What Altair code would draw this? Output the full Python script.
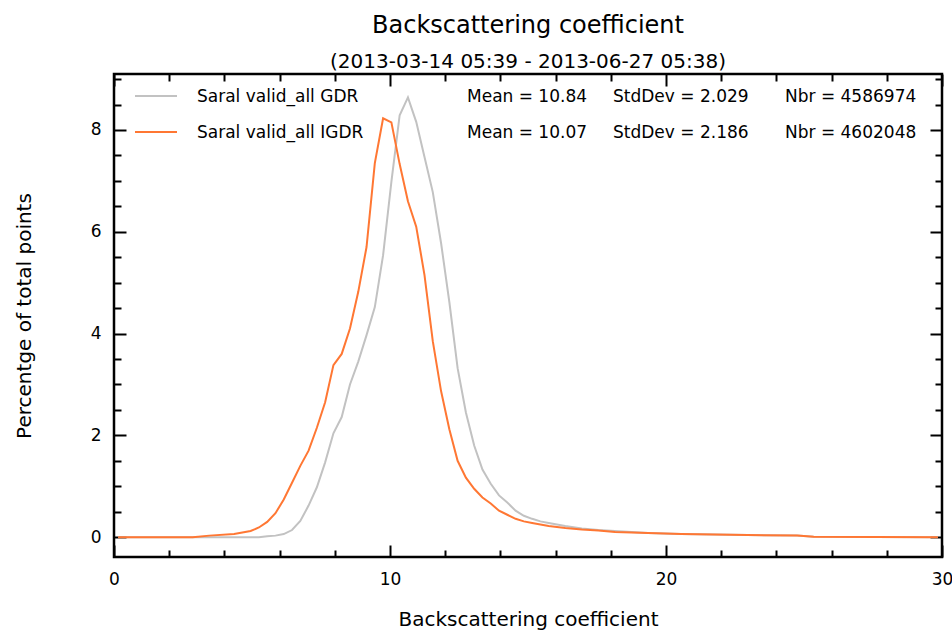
import altair as alt
import pandas as pd

# ---- histogram values (percentage of points per backscatter bin) ----
gdr_x = [0.15, 5.25, 5.55, 5.85, 6.15, 6.45, 6.75, 7.05, 7.35, 7.65,
         7.95, 8.25, 8.55, 8.85, 9.15, 9.45, 9.75, 10.05, 10.35, 10.65,
         10.95, 11.25, 11.55, 11.85, 12.15, 12.45, 12.75, 13.05, 13.35, 13.65,
         13.95, 14.25, 14.55, 14.85, 15.15, 15.45, 15.75, 16.35, 16.95, 17.55,
         18.15, 19.35, 20.55, 21.75, 22.95, 24.75, 25.35, 29.85]
gdr_y = [0.0, 0.0, 0.02, 0.03, 0.06, 0.14, 0.32, 0.62, 0.98, 1.47,
         2.04, 2.36, 3.00, 3.45, 3.97, 4.52, 5.54, 6.98, 8.29, 8.64,
         8.16, 7.47, 6.78, 5.78, 4.62, 3.32, 2.45, 1.80, 1.33, 1.05,
         0.82, 0.68, 0.52, 0.42, 0.36, 0.31, 0.28, 0.22, 0.17, 0.14,
         0.12, 0.08, 0.06, 0.05, 0.04, 0.03, 0.01, 0.0]

igdr_x = [0.15, 2.85, 3.45, 4.35, 4.95, 5.25, 5.55, 5.85, 6.15, 6.45,
          6.75, 7.05, 7.35, 7.65, 7.95, 8.25, 8.55, 8.85, 9.15, 9.45,
          9.75, 10.05, 10.35, 10.65, 10.95, 11.25, 11.55, 11.85, 12.15, 12.45,
          12.75, 13.05, 13.35, 13.65, 13.95, 14.25, 14.55, 14.85, 15.15, 15.45,
          15.75, 16.35, 16.95, 17.55, 18.15, 19.35, 20.55, 21.75, 22.95, 24.75,
          25.35, 29.85]
igdr_y = [0.0, 0.0, 0.03, 0.06, 0.12, 0.19, 0.30, 0.47, 0.74, 1.07,
          1.40, 1.70, 2.15, 2.65, 3.38, 3.60, 4.10, 4.82, 5.70, 7.35,
          8.23, 8.15, 7.33, 6.60, 6.10, 5.15, 3.85, 2.87, 2.12, 1.50,
          1.17, 0.95, 0.78, 0.66, 0.52, 0.44, 0.36, 0.31, 0.28, 0.25,
          0.22, 0.18, 0.15, 0.13, 0.10, 0.08, 0.06, 0.05, 0.04, 0.03,
          0.01, 0.0]

# ---- legend / statistics ----
series_names = ["Saral valid_all GDR", "Saral valid_all IGDR"]
series_colors = ["#c2c2c2", "#ff7733"]
series_means = ["10.84", "10.07"]
series_stddevs = ["2.029", "2.186"]
series_counts = ["4586974", "4602048"]

x_ticks = [0, 2, 4, 6, 8, 10, 12, 14, 16, 18, 20, 22, 24, 26, 28, 30]
y_ticks = [0, 0.5, 1, 1.5, 2, 2.5, 3, 3.5, 4, 4.5, 5, 5.5, 6, 6.5, 7, 7.5,
           8, 8.5, 9]

title_text = "Backscattering coefficient"
subtitle_text = "(2013-03-14 05:39 - 2013-06-27 05:38)"
x_title = "Backscattering coefficient"
y_title = "Percentge of total points"

FONT = "DejaVu Sans"
W, H = 828, 483

x_scale = alt.Scale(domain=[0, 30], nice=False, zero=False)
y_scale = alt.Scale(domain=[-0.39, 9.1], nice=False, zero=False)

common = dict(domain=False, grid=False, tickColor="black", tickWidth=2,
              labelFont=FONT, labelFontSize=17, labelColor="black",
              titleFont=FONT, titleFontSize=20, titleFontWeight="normal",
              titleColor="black", labelOverlap=False)

x_major = "datum.value % 10 === 0"
y_major = "datum.value % 2 === 0"

ax_bottom = alt.Axis(orient="bottom", values=x_ticks,
                     tickSize={"expr": f"{x_major} ? -12 : -7"},
                     labelExpr=f"{x_major} ? format(datum.value, 'd') : ''",
                     labelPadding=26, labelFlush=False, labelBaseline="top",
                     title=x_title, titleX=W / 2, titleY=62,
                     titleAlign="center", titleBaseline="middle", **common)
ax_top = alt.Axis(orient="top", values=x_ticks,
                  tickSize={"expr": f"{x_major} ? -12 : -7"},
                  labels=False, title=None, **common)
ax_left = alt.Axis(orient="left", values=y_ticks,
                   tickSize={"expr": f"{y_major} ? -12 : -7"},
                   labelExpr=f"{y_major} ? format(datum.value, 'd') : ''",
                   labelPadding=25, title=y_title, titleX=-90, titleY=H / 2,
                   titleAngle=270, titleAlign="center", titleBaseline="middle",
                   **common)
ax_right = alt.Axis(orient="right", values=y_ticks,
                    tickSize={"expr": f"{y_major} ? -12 : -7"},
                    labels=False, title=None, **common)

gdr_df = pd.DataFrame({"x": gdr_x, "y": gdr_y})
igdr_df = pd.DataFrame({"x": igdr_x, "y": igdr_y})

gdr_line = alt.Chart(gdr_df).mark_line(color=series_colors[0], strokeWidth=2).encode(
    x=alt.X("x:Q", scale=x_scale, axis=ax_bottom),
    y=alt.Y("y:Q", scale=y_scale, axis=ax_left),
)
igdr_line = alt.Chart(igdr_df).mark_line(color=series_colors[1], strokeWidth=2).encode(
    x=alt.X("x:Q", scale=x_scale, axis=ax_top),
    y=alt.Y("y:Q", scale=y_scale, axis=ax_right),
)

# in-plot legend with the statistics of each series
one = alt.Data(values=[{}])
legend_layers = []
row_y = [22, 58]
for i, name in enumerate(series_names):
    yy = row_y[i]
    legend_layers.append(
        alt.Chart(one).mark_rule(color=series_colors[i], strokeWidth=2).encode(
            x=alt.value(21), x2=alt.value(63), y=alt.value(yy))
    )
    texts = [
        (83, name),
        (353, f"Mean = {series_means[i]}"),
        (499, f"StdDev = {series_stddevs[i]}"),
        (671, f"Nbr = {series_counts[i]}"),
    ]
    for tx, t in texts:
        legend_layers.append(
            alt.Chart(one).mark_text(text=t, align="left", baseline="middle",
                                     font=FONT, fontSize=17, color="black").encode(
                x=alt.value(tx), y=alt.value(yy + 1))
        )

chart = alt.layer(gdr_line, igdr_line, *legend_layers).properties(
    width=W, height=H,
    background="white",
    title=alt.Title(title_text, subtitle=subtitle_text, font=FONT, fontSize=24,
                    fontWeight="normal", color="black", subtitleFont=FONT,
                    subtitleFontSize=20, subtitleColor="black",
                    anchor="middle", offset=-2, subtitlePadding=14),
    autosize=alt.AutoSizeParams(type="none"),
    padding={"left": 114, "top": 74, "right": 10, "bottom": 73},
).resolve_axis(x="independent", y="independent").configure_view(
    stroke="black", strokeWidth=2.5
)

chart.save("out.html", embed_options={"renderer": "svg", "actions": False})
